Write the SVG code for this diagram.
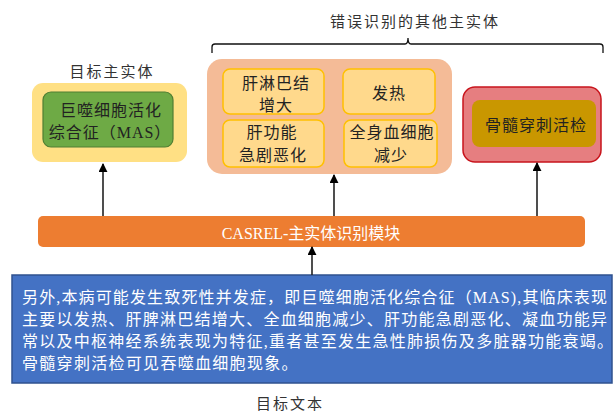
<svg xmlns="http://www.w3.org/2000/svg" width="614" height="412" viewBox="0 0 614 412">
<defs>
<style>
text{font-family:"Liberation Serif","Noto Sans CJK SC",serif;}
.lbl{font-size:15px;fill:#333;letter-spacing:2px;text-anchor:middle;}
.dark{font-size:16px;fill:#222;letter-spacing:1px;text-anchor:middle;}
.inner{fill:#FFD98C;stroke:#FFC000;stroke-width:1.5;}
.conn{stroke:#222;stroke-width:1.6;fill:none;}
.body{font-size:16px;fill:#fff;}
</style>
<marker id="ah" viewBox="0 0 10 10" refX="9" refY="5" markerWidth="9" markerHeight="9" markerUnits="userSpaceOnUse" orient="auto">
<path d="M0,0 L10,5 L0,10 Z" fill="#000"/>
</marker>
</defs>
<rect width="614" height="412" fill="#fff"/>

<g id="title-other">
<text class="lbl" x="415" y="27">错误识别的其他主实体</text>
<path d="M212,53 L212,47 Q212,44 215,44 L405,44 Q408,44 408,38 Q408,44 411,44 L600,44 Q603,44 603,47 L603,53" fill="none" stroke="#111" stroke-width="1.3"/>
</g>

<g id="target-entity">
<text class="lbl" x="112" y="77">目标主实体</text>
<rect x="32" y="83" width="155" height="79" rx="11" fill="#FFE084"/>
<rect x="43" y="92" width="130" height="55" rx="8" fill="#6EAA45" stroke="#507E32" stroke-width="1.2"/>
<text class="dark" x="111" y="116">巨噬细胞活化</text>
<text class="dark" x="110" y="138">综合征（MAS）</text>
</g>

<g id="other-entities">
<rect x="207" y="59" width="245" height="115" rx="15" fill="#F4BB97"/>
<g id="liver-lymph">
<rect class="inner" x="223" y="69" width="101" height="45" rx="7"/>
<text class="dark" x="276" y="89">肝淋巴结</text>
<text class="dark" x="276" y="111">增大</text>
</g>
<g id="fever">
<rect class="inner" x="343" y="69" width="92" height="45" rx="7"/>
<text class="dark" x="389" y="99">发热</text>
</g>
<g id="liver-func">
<rect class="inner" x="223" y="120" width="101" height="47" rx="7"/>
<text class="dark" x="272" y="138">肝功能</text>
<text class="dark" x="273" y="161">急剧恶化</text>
</g>
<g id="pancytopenia">
<rect class="inner" x="344" y="120" width="93" height="47" rx="7"/>
<text class="dark" x="392" y="138">全身血细胞</text>
<text class="dark" x="391" y="161">减少</text>
</g>
</g>

<g id="bone-marrow">
<rect x="463" y="87" width="138" height="75" rx="12" fill="#E67E80" stroke="#C8141C" stroke-width="1.5"/>
<rect x="472" y="100" width="124" height="47" rx="8" fill="#C99700"/>
<text class="dark" x="536" y="131">骨髓穿刺活检</text>
</g>

<g id="casrel">
<rect x="38" y="216" width="547" height="31" rx="5" fill="#ED7D31"/>
<text x="311" y="239" font-size="16" fill="#fff" text-anchor="middle">CASREL-主实体识别模块</text>
</g>

<g id="target-text">
<rect x="12" y="275" width="600" height="108" fill="#4472C4" stroke="#2F528F" stroke-width="1.5"/>
<text class="body" x="22" y="303" textLength="585" lengthAdjust="spacing">另外,本病可能发生致死性并发症，即巨噬细胞活化综合征（MAS),其临床表现</text>
<text class="body" x="22" y="325" textLength="585" lengthAdjust="spacing">主要以发热、肝脾淋巴结增大、全血细胞减少、肝功能急剧恶化、凝血功能异</text>
<text class="body" x="22" y="347" textLength="591" lengthAdjust="spacing">常以及中枢神经系统表现为特征,重者甚至发生急性肺损伤及多脏器功能衰竭。</text>
<text class="body" x="22" y="369" letter-spacing="1.3">骨髓穿刺活检可见吞噬血细胞现象。</text>
<text class="lbl" x="290" y="409" letter-spacing="1.5">目标文本</text>
</g>

<g id="connectors">
<line class="conn" x1="103" y1="216" x2="103" y2="164" marker-end="url(#ah)"/>
<line class="conn" x1="334" y1="216" x2="334" y2="175" marker-end="url(#ah)"/>
<line class="conn" x1="537" y1="216" x2="537" y2="163" marker-end="url(#ah)"/>
<line class="conn" x1="312" y1="275" x2="312" y2="247" marker-end="url(#ah)"/>
</g>
</svg>
